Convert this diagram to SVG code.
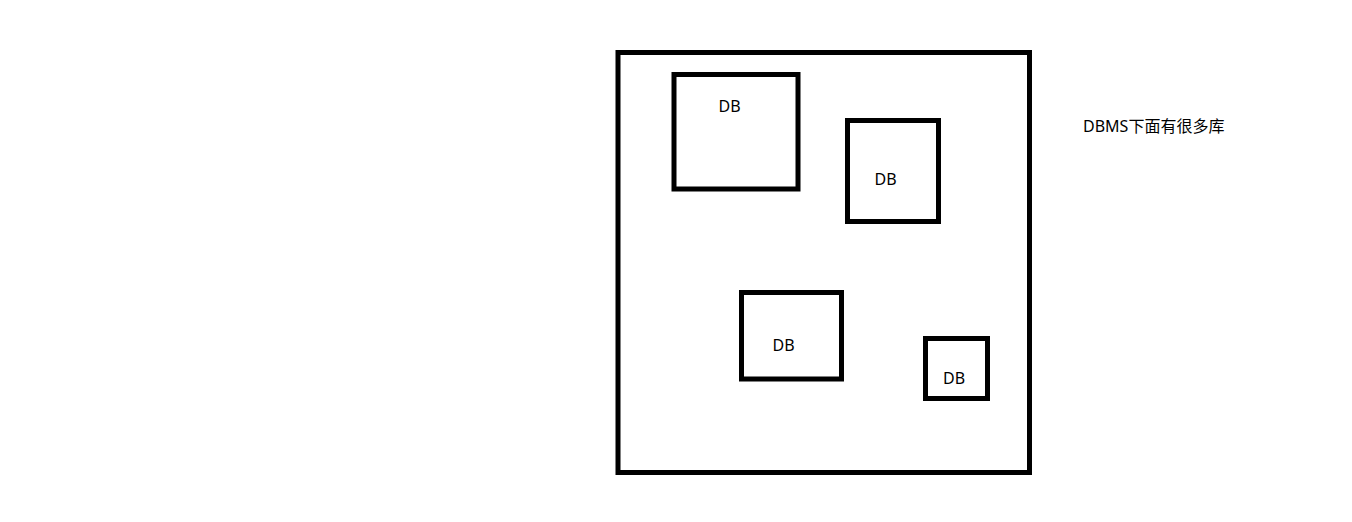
<svg xmlns="http://www.w3.org/2000/svg" width="1352" height="522" viewBox="0 0 1352 522">
<style>
.box{fill:none;stroke:#000;stroke-width:5}
.t{font-family:"Noto Sans","Noto Sans CJK SC",sans-serif;font-size:16px;fill:#000}
</style>
<rect width="1352" height="522" fill="#fff"/>
<g id="dbms">
<rect class="box" x="618" y="52.5" width="411.5" height="420"/>
</g>
<g id="db1">
<rect class="box" x="674" y="74.5" width="124" height="114.5"/>
<text class="t" x="718.5" y="111.5">DB</text>
</g>
<g id="db2">
<rect class="box" x="847.5" y="120.5" width="91" height="101"/>
<text class="t" x="874.5" y="184.5">DB</text>
</g>
<g id="db3">
<rect class="box" x="741.5" y="292.5" width="100" height="86.5"/>
<text class="t" x="772.5" y="350.5">DB</text>
</g>
<g id="db4">
<rect class="box" x="925.5" y="338.5" width="62" height="60"/>
<text class="t" x="943" y="384">DB</text>
</g>
<g id="label">
<text class="t" x="1083" y="132">DBMS下面有很多库</text>
</g>
<g id="connectors"/>
</svg>
